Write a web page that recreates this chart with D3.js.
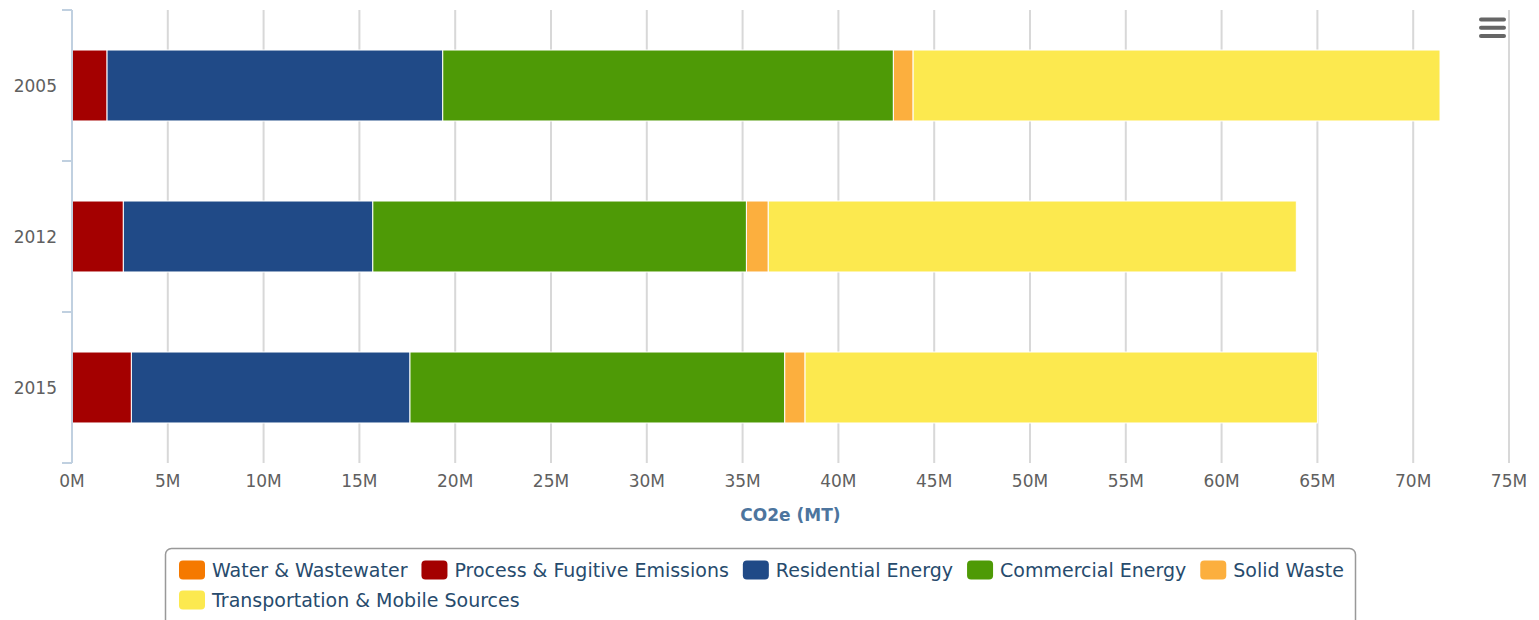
<!DOCTYPE html>
<html>
<head>
<meta charset="utf-8">
<script src="https://cdn.jsdelivr.net/npm/d3@7"></script>
<style>
body { margin: 0; background: #fff; }
text { font-family: "DejaVu Sans", sans-serif; }
</style>
</head>
<body>
<div id="main"></div>
<script>
// categories and series (values in millions of MT CO2e, one per year)
const years = ["2005", "2012", "2015"];
const seriesNames = ["Water & Wastewater", "Process & Fugitive Emissions", "Residential Energy",
	"Commercial Energy", "Solid Waste", "Transportation & Mobile Sources"];
const seriesColors = ["#f57900", "#a40000", "#204a87", "#4e9a06", "#fcaf3e", "#fce94f"];
const water = [0, 0, 0];
const processFugitive = [1.83, 2.68, 3.10];
const residential = [17.52, 13.02, 14.54];
const commercial = [23.52, 19.50, 19.56];
const solidWaste = [1.03, 1.14, 1.06];
const transportation = [27.50, 27.56, 26.74];
const xTicks = [0, 5, 10, 15, 20, 25, 30, 35, 40, 45, 50, 55, 60, 65, 70, 75];

const seriesValues = [water, processFugitive, residential, commercial, solidWaste, transportation];

let margin = {top: 10, right: 30, bottom: 157, left: 72};
let W = 1539, H = 620;
let width = W - margin.left - margin.right;
let height = H - margin.top - margin.bottom;

let x = d3.scaleLinear()
	.domain([0, 75])
	.range([0, width]);

let y = d3.scaleBand()
	.domain(years)
	.range([0, height]);

const barH = y.bandwidth() * 0.47;

// build stack table
const table = years.map((yr, i) => {
	let row = {year: yr};
	seriesNames.forEach((s, j) => row[s] = seriesValues[j][i]);
	return row;
});
const stacked = d3.stack().keys(seriesNames)(table);

let svg = d3.select("#main")
	.append("svg")
		.attr("width", W)
		.attr("height", H);

let g = svg.append("g")
	.attr("transform", `translate(${margin.left}, ${margin.top})`);

// gridlines
g.append("g")
	.selectAll("line")
	.data(xTicks.filter(t => t > 0))
	.enter()
	.append("line")
		.attr("x1", d => x(d))
		.attr("x2", d => x(d))
		.attr("y1", 0)
		.attr("y2", height)
		.style("stroke", "#d8d8d8")
		.style("stroke-width", 2);

// bars
g.append("g")
	.selectAll("g")
	.data(stacked)
	.enter()
	.append("g")
		.attr("fill", (d, i) => seriesColors[i])
	.selectAll("rect")
	.data(d => d.filter(p => p[1] - p[0] > 0))
	.enter()
	.append("rect")
		.attr("x", d => x(d[0]))
		.attr("width", d => x(d[1]) - x(d[0]))
		.attr("y", d => y(d.data.year) + (y.bandwidth() - barH) / 2)
		.attr("height", barH)
		.style("stroke", "#fff")
		.style("stroke-width", 1);

// y axis line and ticks at band edges
g.append("line")
	.attr("x1", 0).attr("x2", 0)
	.attr("y1", 0).attr("y2", height)
	.style("stroke", "#c0d0e0")
	.style("stroke-width", 2);

const edges = years.map(d => y(d)).concat([height]);
g.append("g")
	.selectAll("line")
	.data(edges)
	.enter()
	.append("line")
		.attr("x1", -10).attr("x2", 0)
		.attr("y1", d => d).attr("y2", d => d)
		.style("stroke", "#c0d0e0")
		.style("stroke-width", 2);

// y labels
g.append("g")
	.selectAll("text")
	.data(years)
	.enter()
	.append("text")
		.attr("x", -15)
		.attr("y", d => y(d) + y.bandwidth() / 2)
		.attr("dy", "0.36em")
		.attr("text-anchor", "end")
		.style("font-size", "17px")
		.style("fill", "#606060")
		.text(d => d);

// x labels
g.append("g")
	.selectAll("text")
	.data(xTicks)
	.enter()
	.append("text")
		.attr("x", d => x(d))
		.attr("y", height + 24)
		.attr("text-anchor", "middle")
		.style("font-size", "17px")
		.style("fill", "#606060")
		.text(d => `${d}M`);

// axis title
g.append("text")
	.attr("x", width / 2)
	.attr("y", height + 58)
	.attr("text-anchor", "middle")
	.style("font-size", "17px")
	.style("font-weight", "bold")
	.style("fill", "#4d759e")
	.text("CO2e (MT)");

// menu icon
svg.append("g")
	.selectAll("line")
	.data([0, 1, 2])
	.enter()
	.append("line")
		.attr("x1", 1481).attr("x2", 1504)
		.attr("y1", d => 19.5 + d * 8.2)
		.attr("y2", d => 19.5 + d * 8.2)
		.style("stroke", "#666")
		.style("stroke-width", 4)
		.style("stroke-linecap", "round");

// legend
let legend = svg.append("g");
legend.append("rect")
	.attr("x", 165.5).attr("y", 548.5)
	.attr("width", 1190).attr("height", 110)
	.attr("rx", 6)
	.style("fill", "none")
	.style("stroke", "#999")
	.style("stroke-width", 1.5);

let lx = 179, row = 0;
const rowY = [570, 600];
seriesNames.forEach((name, i) => {
	let item = legend.append("g");
	let t = item.append("text")
		.attr("x", 33)
		.attr("dy", "0.36em")
		.style("font-size", "19px")
		.style("fill", "#274b6d")
		.text(name);
	let w = 33 + t.node().getComputedTextLength();
	if (lx + w > 1352) {
		lx = 179;
		row++;
	}
	item.append("rect")
		.attr("x", 0).attr("y", -9.5)
		.attr("width", 26).attr("height", 19)
		.attr("rx", 4)
		.style("fill", seriesColors[i]);
	item.attr("transform", `translate(${lx}, ${rowY[row]})`);
	lx += w + 14;
});
</script>
</body>
</html>
